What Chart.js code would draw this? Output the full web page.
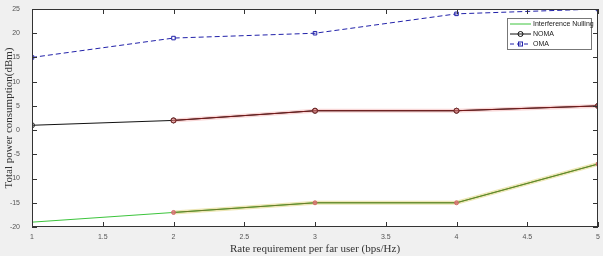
<!DOCTYPE html>
<html>
<head>
<meta charset="utf-8">
<script src="https://cdn.jsdelivr.net/npm/chart.js@4.4.1/dist/chart.umd.min.js"></script>
<style>
  html, body { margin: 0; padding: 0; background: #f0f0f0; }
  #wrap { width: 603px; height: 256px; }
</style>
</head>
<body>
<div id="wrap"><canvas id="chart" width="603" height="256"></canvas></div>
<script>
// x = rate requirement per far user (bps/Hz)
const rates = [1, 2, 3, 4, 5];
const nullingPower = [-19, -17, -15, -15, -7];
const nomaPower = [1, 2, 4, 4, 5];
const omaPower = [15, 19, 20, 24, 25];
// highlighted stretch (x = 2..5)
const nomaHighlight = [null, 2, 4, 4, 5];
const nullingHighlight = [null, -17, -15, -15, -7];

const xTicks = [1, 1.5, 2, 2.5, 3, 3.5, 4, 4.5, 5];
const yTicks = [-20, -15, -10, -5, 0, 5, 10, 15, 20, 25];

const legendItems = [
    { label: "Interference Nulling", color: "#3cc43c", dash: [], marker: null },
    { label: "NOMA", color: "#111111", dash: [], marker: "circle" },
    { label: "OMA", color: "#2222aa", dash: [4, 3], marker: "rect" }
];

function pts(ys) {
    return rates.map((x, i) => ({ x, y: ys[i] }));
}

// white plot area + box with inward ticks, MATLAB style
const axesBox = {
    id: "axesBox",
    beforeDraw(chart) {
        const { ctx, chartArea: a } = chart;
        ctx.save();
        ctx.fillStyle = "#ffffff";
        ctx.fillRect(a.left, a.top, a.right - a.left, a.bottom - a.top);
        ctx.restore();
    },
    afterDatasetsDraw(chart) {
        const { ctx, chartArea: a, scales } = chart;
        ctx.save();
        ctx.strokeStyle = "#333333";
        ctx.lineWidth = 1;
        ctx.strokeRect(a.left + 0.5, a.top + 0.5, a.right - a.left - 1, a.bottom - a.top - 1);
        ctx.beginPath();
        xTicks.forEach(v => {
            const px = Math.round(scales.x.getPixelForValue(v)) + 0.5;
            ctx.moveTo(px, a.bottom); ctx.lineTo(px, a.bottom - 5);
            ctx.moveTo(px, a.top); ctx.lineTo(px, a.top + 5);
        });
        yTicks.forEach(v => {
            const py = Math.round(scales.y.getPixelForValue(v)) + 0.5;
            ctx.moveTo(a.left, py); ctx.lineTo(a.left + 5, py);
            ctx.moveTo(a.right, py); ctx.lineTo(a.right - 5, py);
        });
        ctx.stroke();
        ctx.restore();
    },
    afterDraw(chart) {
        // legend box at top right
        const { ctx } = chart;
        const bx = 507, by = 18, bw = 84, bh = 31;
        ctx.save();
        ctx.fillStyle = "#ffffff";
        ctx.fillRect(bx, by, bw, bh);
        ctx.strokeStyle = "#777777";
        ctx.lineWidth = 1;
        ctx.strokeRect(bx + 0.5, by + 0.5, bw, bh);
        ctx.font = "7px 'Liberation Sans', Arial, sans-serif";
        ctx.textBaseline = "middle";
        legendItems.forEach((it, i) => {
            const y = by + 6 + i * 10;
            ctx.strokeStyle = it.color;
            ctx.setLineDash(it.dash);
            ctx.beginPath();
            ctx.moveTo(bx + 3, y); ctx.lineTo(bx + 24, y);
            ctx.stroke();
            ctx.setLineDash([]);
            if (it.marker === "circle") {
                ctx.beginPath(); ctx.arc(bx + 13.5, y, 2.5, 0, Math.PI * 2); ctx.stroke();
            } else if (it.marker === "rect") {
                ctx.strokeRect(bx + 11.5, y - 2, 4, 4);
            }
            ctx.fillStyle = "#222222";
            ctx.fillText(it.label, bx + 26, y);
        });
        ctx.restore();
    }
};

const ctx = document.getElementById("chart");

new Chart(ctx, {
    type: "line",
    data: {
        datasets: [
            {
                label: "NOMA glow",
                data: pts(nomaHighlight),
                borderColor: "rgba(235, 110, 110, 0.28)",
                borderWidth: 4,
                pointRadius: 0,
                order: 5
            },
            {
                label: "Nulling glow",
                data: pts(nullingHighlight),
                borderColor: "rgba(215, 200, 90, 0.45)",
                borderWidth: 4,
                pointRadius: 0,
                order: 5
            },
            {
                label: "Interference Nulling",
                data: pts(nullingPower),
                borderColor: "#3cc43c",
                borderWidth: 1,
                pointRadius: 0,
                order: 3
            },
            {
                label: "Nulling over",
                data: pts(nullingHighlight),
                borderColor: "#6f7a2a",
                borderWidth: 1,
                pointRadius: 2,
                pointBackgroundColor: "rgba(220, 120, 120, 0.85)",
                pointBorderColor: "rgba(205, 100, 100, 0.85)",
                order: 2
            },
            {
                label: "NOMA",
                data: pts(nomaPower),
                borderColor: "#111111",
                borderWidth: 1,
                pointStyle: "circle",
                pointRadius: 2.5,
                pointBorderColor: "#222222",
                pointBackgroundColor: "rgba(0,0,0,0)",
                order: 3
            },
            {
                label: "NOMA over",
                data: pts(nomaHighlight),
                borderColor: "#7a1c1c",
                borderWidth: 1,
                pointRadius: 2.5,
                pointBorderColor: "#7a2a2a",
                pointBackgroundColor: "rgba(210, 120, 120, 0.6)",
                order: 2
            },
            {
                label: "OMA",
                data: pts(omaPower),
                borderColor: "#2222aa",
                borderWidth: 1,
                borderDash: [5, 3],
                pointStyle: "rect",
                pointRadius: 2.5,
                pointBorderColor: "#2222aa",
                pointBackgroundColor: "rgba(0,0,0,0)",
                order: 3
            }
        ]
    },
    options: {
        responsive: false,
        animation: false,
        layout: { padding: { top: 9, right: 2, left: 3, bottom: 0 } },
        plugins: {
            legend: { display: false },
            tooltip: { enabled: false }
        },
        scales: {
            x: {
                type: "linear",
                min: 1,
                max: 5,
                afterBuildTicks: axis => { axis.ticks = xTicks.map(v => ({ value: v })); },
                afterFit: axis => { axis.height = 29; axis.paddingRight = 0; },
                grid: { display: false, drawTicks: false },
                border: { display: false },
                ticks: {
                    color: "#555555",
                    font: { size: 7, family: "'Liberation Sans', Arial, sans-serif" },
                    padding: 6,
                    maxRotation: 0,
                    callback: v => String(v)
                },
                title: {
                    display: true,
                    text: "Rate requirement per far user (bps/Hz)",
                    color: "#333333",
                    font: { size: 11, family: "'Liberation Serif', 'Times New Roman', serif" },
                    padding: { top: 0, bottom: 0 }
                }
            },
            y: {
                min: -20,
                max: 25,
                afterBuildTicks: axis => { axis.ticks = yTicks.map(v => ({ value: v })); },
                afterFit: axis => { axis.width = 29; },
                grid: { display: false },
                border: { display: false },
                ticks: {
                    color: "#555555",
                    font: { size: 7, family: "'Liberation Sans', Arial, sans-serif" },
                    padding: 4
                },
                title: {
                    display: true,
                    text: "Total power consumption(dBm)",
                    color: "#333333",
                    font: { size: 11, family: "'Liberation Serif', 'Times New Roman', serif" },
                    padding: { top: 0, bottom: 0 }
                }
            }
        }
    },
    plugins: [axesBox]
});
</script>
</body>
</html>
